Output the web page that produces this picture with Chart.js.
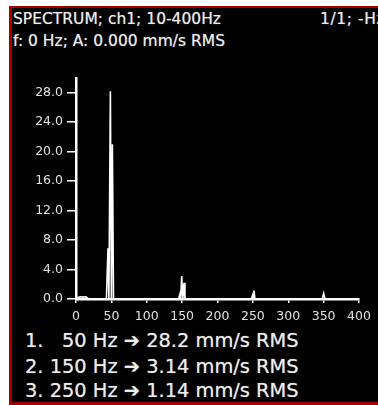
<!DOCTYPE html>
<html>
<head>
<meta charset="utf-8">
<script src="https://cdn.jsdelivr.net/npm/chart.js@4/dist/chart.umd.min.js"></script>
<style>
  html, body { margin: 0; padding: 0; background: #fff; width: 378px; height: 405px; overflow: hidden; }
  #panel {
    position: absolute; left: 9px; top: 6px; width: 366px; height: 394px;
    background: #000; border-left: 3px solid #a40000; border-top: 2px solid #a40000; border-bottom: 3px solid #a40000;
  }
  .txt { position: absolute; color: #ececec; font-family: 'DejaVu Sans', sans-serif; white-space: pre; text-shadow: 0 0 1px rgba(255,255,255,0.55); }
  .hdr { font-size: 15.5px; line-height: 18px; }
  .peak { font-size: 19.4px; line-height: 24px; left: 25px; }
  #chart { position: absolute; left: 0; top: 0; }
</style>
</head>
<body>
<div id="panel"></div>
<div class="txt hdr" style="left:13px; top:10px;">SPECTRUM; ch1; 10-400Hz</div>
<div class="txt hdr" style="left:320px; top:10px; letter-spacing:0.6px;">1/1; -Hz</div>
<div class="txt hdr" style="left:13px; top:32px;">f: 0 Hz; A: 0.000 mm/s RMS</div>
<div id="peaks"></div>
<canvas id="chart" width="378" height="405"></canvas>
<script>
// Spectrum points (frequency in Hz, amplitude in mm/s RMS).
var freqs = [0, 3, 6, 10, 14, 18, 43, 45.2, 46.5, 48.6, 50, 51.4, 53, 145, 147, 148, 149.4, 151, 152.7, 154, 248, 249.5, 250.5, 251.5, 253, 348, 350, 352, 400];
var amps  = [0, 0.2, 0.3, 0.25, 0.3, 0, 0, 6.9, 0, 28.2, 0, 21.0, 0, 0, 0.7, 0, 3.1, 0, 2.2, 0, 0, 0.5, 0, 1.14, 0, 0, 0.75, 0, 0];

var xTicks = [0, 50, 100, 150, 200, 250, 300, 350, 400];
var yTicks = [0, 4, 8, 12, 16, 20, 24, 28];

// Peak list shown under the chart
var peakFreqs = [50, 150, 250];
var peakAmps = [28.2, 3.14, 1.14];

(function () {
  var holder = document.getElementById('peaks');
  var tops = [329, 355, 379];
  peakFreqs.forEach(function (f, i) {
    var d = document.createElement('div');
    d.className = 'txt peak';
    d.style.top = tops[i] + 'px';
    var fs = String(f);
    while (fs.length < 3) fs = '  ' + fs;
    d.textContent = (i + 1) + '. ' + fs + ' Hz \u2794 ' + peakAmps[i] + ' mm/s RMS';
    holder.appendChild(d);
  });

  var pts = freqs.map(function (f, i) { return { x: f, y: amps[i] }; });
  var tickFont = { family: 'DejaVu Sans', size: 12.5 };

  new Chart(document.getElementById('chart'), {
    type: 'line',
    data: {
      datasets: [{
        data: pts,
        borderColor: '#ffffff',
        borderWidth: 1.6,
        pointRadius: 0,
        tension: 0,
        fill: false
      }]
    },
    options: {
      responsive: false,
      animation: false,
      events: [],
      layout: { padding: { left: 31, top: 78, right: 19, bottom: 80 } },
      plugins: { legend: { display: false }, tooltip: { enabled: false } },
      scales: {
        x: {
          type: 'linear',
          min: 0,
          max: 400,
          border: { color: '#ffffff', width: 2.5 },
          grid: { drawOnChartArea: false, drawTicks: true, tickLength: 4, color: '#ffffff', lineWidth: 1.5 },
          ticks: { color: '#e0e0e0', font: tickFont, padding: 6, maxRotation: 0, autoSkip: false },
          afterBuildTicks: function (s) { s.ticks = xTicks.map(function (v) { return { value: v }; }); },
          afterFit: function (s) { s.height = 26; }
        },
        y: {
          type: 'linear',
          min: 0,
          max: 30,
          border: { color: '#ffffff', width: 2.5 },
          grid: { drawOnChartArea: false, drawTicks: true, tickLength: 9, color: '#ffffff', lineWidth: 1.5 },
          ticks: {
            color: '#e0e0e0', font: tickFont, padding: 4,
            callback: function (v) { return v.toFixed(1); }
          },
          afterBuildTicks: function (s) { s.ticks = yTicks.map(function (v) { return { value: v }; }); },
          afterFit: function (s) { s.width = 45; }
        }
      }
    }
  });
})();
</script>
</body>
</html>
